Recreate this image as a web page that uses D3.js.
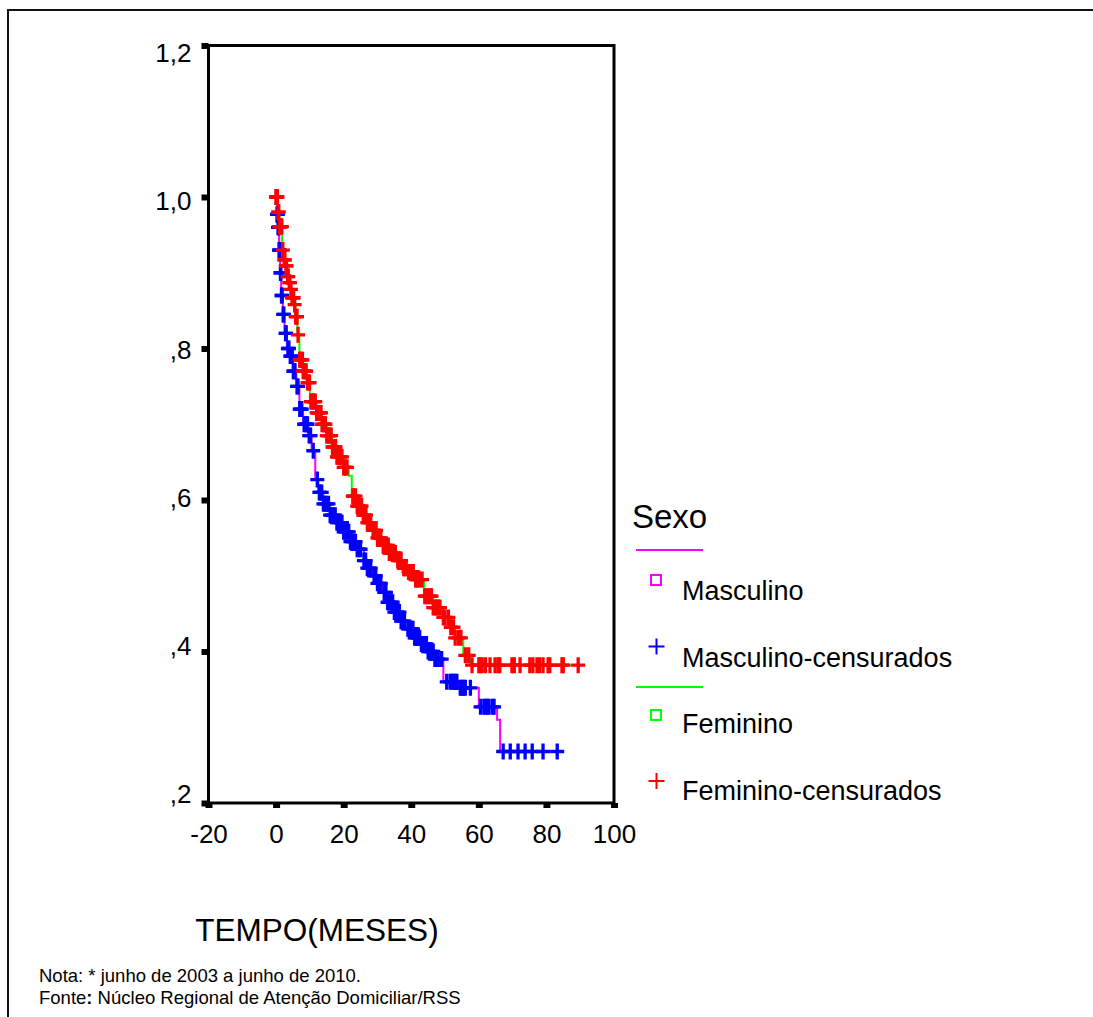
<!DOCTYPE html>
<html>
<head>
<meta charset="UTF-8">
<script src="https://cdn.jsdelivr.net/npm/d3@7/dist/d3.min.js"></script>
<style>
  body { margin: 0; background: #fff; }
  text { font-family: "Liberation Sans", Arial, sans-serif; fill: #000; }
  .axis path { display: none; }
  .axis line { stroke: #000; }
</style>
</head>
<body>
<script>
var width = 1093, height = 1017;

// tick values
var xTicks = [-20, 0, 20, 40, 60, 80, 100];
var yTicks = [0.2, 0.4, 0.6, 0.8, 1.0, 1.2];

// Masculino: KM step (time of drop, survival after it)
var masTimes = [0, 0.3, 0.6, 0.9, 1.2, 1.5, 2.0, 2.5, 3.2, 4.0, 5.0, 6.0, 6.9, 8.0, 9.5, 10.5, 11.6, 12.5, 14, 16, 18, 20, 22, 24, 26, 27, 28.5, 30, 31.5, 33, 35, 37, 39, 41, 43, 45, 47, 49.5, 54, 60, 65.4, 66.3];
var masSurv  = [1.0, 0.977, 0.96, 0.93, 0.90, 0.87, 0.845, 0.82, 0.80, 0.79, 0.77, 0.75, 0.72, 0.70, 0.685, 0.665, 0.627, 0.61, 0.595, 0.58, 0.57, 0.558, 0.545, 0.535, 0.52, 0.51, 0.50, 0.49, 0.478, 0.465, 0.452, 0.44, 0.43, 0.418, 0.41, 0.40, 0.39, 0.36, 0.352, 0.327, 0.31, 0.268];
var masEnd = 84;
var masCensor = [0.1, 0.2, 0.3, 0.4, 0.5, 0.6, 0.7, 0.8, 0.9, 1.0, 1.1, 1.3, 1.4, 1.6, 1.8, 2.1, 2.3, 2.8, 3.0, 3.5, 3.8, 4.2, 4.5, 4.8, 5.1, 5.3, 5.6, 6.2, 6.5, 7.0, 7.2, 7.6, 8.3, 8.8, 9.0, 9.3, 9.8, 10.2, 11.0, 12.2, 12.8, 13, 13.5, 14, 14.5, 15, 15.5, 16, 16.5, 17, 17.5, 18, 18.5, 19, 19.5, 20, 20.5, 21, 21.5, 22, 22.5, 23, 23.5, 24, 24.5, 25, 26, 26.5, 27, 27.5, 28, 29, 29.5, 30, 30.5, 31, 32, 32.5, 33, 33.5, 34, 34.5, 35, 35.5, 36, 36.5, 37, 37.5, 38, 39, 39.5, 40, 40.5, 41, 41.5, 42, 42.5, 43, 43.5, 44, 44.5, 45, 45.5, 46, 46.5, 47, 47.5, 48, 49, 50.5, 51.5, 52, 52.5, 53, 53.5, 54.5, 55, 55.5, 56, 57.5, 60.5, 61.5, 62, 62.5, 63, 64, 64.5, 67.2, 69.3, 71.6, 73.7, 75.8, 79, 83.2];

// Feminino
var femTimes = [0, 0.5, 1.0, 1.8, 2.2, 2.7, 3.2, 3.7, 4.2, 4.7, 5.3, 5.8, 6.3, 6.9, 8, 9, 10, 12, 13.5, 15, 16.5, 18, 20, 21.5, 22.4, 24, 25.5, 27, 28.5, 30, 31.5, 33.5, 35.5, 37.5, 39, 41, 43.8, 46.5, 49, 51.5, 53, 55.4, 57.5];
var femSurv  = [1.0, 0.98, 0.961, 0.93, 0.917, 0.909, 0.895, 0.887, 0.878, 0.867, 0.858, 0.842, 0.818, 0.785, 0.77, 0.755, 0.73, 0.715, 0.70, 0.685, 0.67, 0.657, 0.643, 0.632, 0.605, 0.592, 0.58, 0.57, 0.56, 0.55, 0.54, 0.53, 0.52, 0.51, 0.505, 0.495, 0.473, 0.458, 0.445, 0.432, 0.418, 0.395, 0.382];
var femEnd = 90.8;
var femCensor = [0, 0.1, 0.2, 0.4, 0.6, 0.8, 1.0, 1.2, 1.4, 1.5, 1.7, 2.0, 2.4, 2.6, 2.9, 3.1, 3.4, 3.6, 3.9, 4.1, 4.4, 4.7, 5.0, 5.2, 5.5, 5.8, 6.0, 6.2, 6.5, 7.0, 7.2, 7.5, 7.8, 8.0, 8.3, 8.6, 8.9, 9.3, 9.6, 9.9, 10.3, 10.6, 11.0, 11.2, 11.6, 12.0, 12.3, 12.6, 13, 13.3, 13.6, 14.0, 14.3, 14.6, 15.0, 15.3, 15.6, 16, 16.3, 16.7, 17.0, 17.3, 17.6, 18.0, 18.3, 18.6, 19, 19.5, 20.0, 20.3, 20.6, 21, 22.7, 23, 23.5, 24.0, 24.3, 24.6, 25, 25.3, 25.8, 26.0, 26.3, 26.6, 27.0, 27.3, 27.6, 28, 28.7, 29.0, 29.3, 29.6, 30.0, 30.3, 30.6, 31, 31.7, 32.0, 32.3, 32.6, 33.2, 33.5, 34, 34.3, 34.7, 35.0, 35.3, 36.0, 36.5, 37, 37.8, 38.0, 38.5, 39.2, 39.6, 40, 40.3, 40.6, 41.3, 41.6, 42, 42.5, 43.2, 44.0, 44.5, 45, 45.6, 46, 46.5, 47, 47.5, 48, 48.5, 49.5, 50, 51.0, 51.7, 52.5, 53.0, 54, 54.7, 56, 57.0, 58, 60.0, 60.4, 61, 62.0, 63.3, 64.8, 65.7, 66.2, 69.8, 70.5, 72.2, 75.1, 76, 77.2, 78, 79, 80.5, 81, 84.6, 85, 89.4];

var legendLabels = ["Masculino", "Masculino-censurados", "Feminino", "Feminino-censurados"];

var svg = d3.select("body").append("svg")
  .attr("width", width)
  .attr("height", height);

// outer frame (left and top only visible)
svg.append("path")
  .attr("d", "M8,1017V10H1093")
  .attr("fill", "none")
  .attr("stroke", "#111")
  .attr("stroke-width", 2);

var x = d3.scaleLinear().domain([-20, 100]).range([208.5, 614]);
var y = d3.scaleLinear().domain([0.2, 1.2]).range([803, 45.5]);

function fmtY(v) {
  var s = v.toFixed(1).replace(".", ",");
  return s.charAt(0) === "0" ? s.slice(1) : s;
}

// plot frame
svg.append("rect")
  .attr("x", x(-20)).attr("y", y(1.2))
  .attr("width", x(100) - x(-20)).attr("height", y(0.2) - y(1.2))
  .attr("fill", "none").attr("stroke", "#000").attr("stroke-width", 3);

var yAxis = svg.append("g").attr("class", "axis")
  .attr("transform", "translate(" + x(-20) + ",0)")
  .call(d3.axisLeft(y).tickValues(yTicks).tickFormat(fmtY).tickSize(7).tickPadding(10));
yAxis.selectAll("line").attr("stroke-width", 6);
yAxis.selectAll("text").attr("font-size", 26)
  .attr("y", function(d) { return 8 - (1.2 - d) * 17; });

var xAxis = svg.append("g").attr("class", "axis")
  .attr("transform", "translate(0," + y(0.2) + ")")
  .call(d3.axisBottom(x).tickValues(xTicks).tickFormat(function(d) { return String(d); })
    .tickSize(5).tickPadding(17));
xAxis.selectAll("line").attr("stroke-width", 7);
xAxis.selectAll("text").attr("font-size", 26);

// KM curves
function stepPoints(times, surv, end) {
  var pts = times.map(function(t, i) { return [t, surv[i]]; });
  pts.push([end, surv[surv.length - 1]]);
  return pts;
}
function survAt(times, surv, t) {
  var v = surv[0];
  for (var i = 0; i < times.length; i++) if (times[i] <= t) v = surv[i];
  return v;
}
var line = d3.line()
  .x(function(d) { return x(d[0]); })
  .y(function(d) { return y(d[1]); })
  .curve(d3.curveStepAfter);

svg.append("path").datum(stepPoints(masTimes, masSurv, masEnd))
  .attr("d", line).attr("fill", "none").attr("stroke", "#ff00ff").attr("stroke-width", 2);
svg.append("path").datum(stepPoints(femTimes, femSurv, femEnd))
  .attr("d", line).attr("fill", "none").attr("stroke", "#00ff00").attr("stroke-width", 2);

var cross = "M-7,0H7M0,-8V8";
svg.append("g").selectAll("path").data(masCensor).join("path")
  .attr("d", cross)
  .attr("transform", function(t) { return "translate(" + x(t) + "," + y(survAt(masTimes, masSurv, t)) + ")"; })
  .attr("stroke", "#0000ff").attr("stroke-width", 3.3).attr("fill", "none");
svg.append("g").selectAll("path").data(femCensor).join("path")
  .attr("d", cross)
  .attr("transform", function(t) { return "translate(" + x(t) + "," + y(survAt(femTimes, femSurv, t)) + ")"; })
  .attr("stroke", "#ff0000").attr("stroke-width", 3.3).attr("fill", "none");

// legend
var lg = svg.append("g");
lg.append("text").attr("x", 632).attr("y", 528).attr("font-size", 33).text("Sexo");
lg.append("line").attr("x1", 636).attr("x2", 703).attr("y1", 550).attr("y2", 550)
  .attr("stroke", "#ff00ff").attr("stroke-width", 2);
lg.append("rect").attr("x", 651).attr("y", 575).attr("width", 10).attr("height", 10)
  .attr("fill", "none").attr("stroke", "#ff00ff").attr("stroke-width", 2);
lg.append("path").attr("d", "M-8,0H8M0,-8V8").attr("transform", "translate(656.5,646.5)")
  .attr("stroke", "#0000ff").attr("stroke-width", 2);
lg.append("line").attr("x1", 636).attr("x2", 703).attr("y1", 687).attr("y2", 687)
  .attr("stroke", "#00ff00").attr("stroke-width", 2);
lg.append("rect").attr("x", 651).attr("y", 710).attr("width", 10).attr("height", 10)
  .attr("fill", "none").attr("stroke", "#00ff00").attr("stroke-width", 2);
lg.append("path").attr("d", "M-8,0H8M0,-8V8").attr("transform", "translate(656.5,781)")
  .attr("stroke", "#ff0000").attr("stroke-width", 2);
var labelY = [600, 667, 733, 800];
legendLabels.forEach(function(s, i) {
  lg.append("text").attr("x", 682).attr("y", labelY[i]).attr("font-size", 27).text(s);
});

// axis title and notes
svg.append("text").attr("x", 317).attr("y", 941).attr("text-anchor", "middle")
  .attr("font-size", 31.5).text("TEMPO(MESES)");
svg.append("text").attr("x", 39).attr("y", 982).attr("font-size", 18.5)
  .text("Nota: * junho de 2003 a junho de 2010.");
var f = svg.append("text").attr("x", 39).attr("y", 1004).attr("font-size", 18.5);
f.append("tspan").text("Fonte");
f.append("tspan").attr("font-weight", "bold").text(":");
f.append("tspan").text(" Núcleo Regional de Atenção Domiciliar/RSS");
</script>
</body>
</html>
